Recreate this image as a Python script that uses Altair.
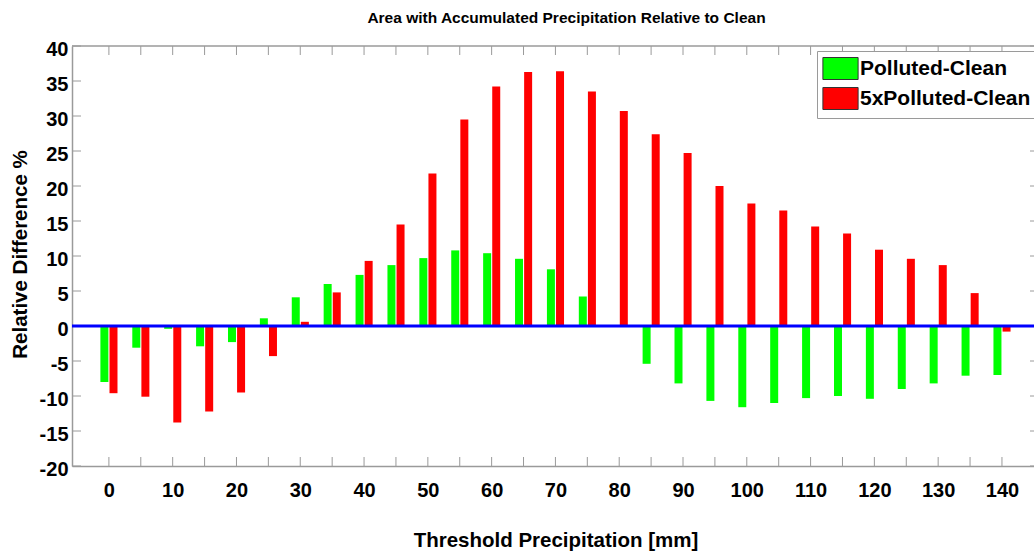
import altair as alt
import pandas as pd

# ---- data ----
thresholds = [0, 5, 10, 15, 20, 25, 30, 35, 40, 45, 50, 55, 60, 65, 70,
              75, 80, 85, 90, 95, 100, 105, 110, 115, 120, 125, 130, 135, 140]
polluted_clean = [-8.0, -3.1, -0.4, -2.9, -2.3, 1.1, 4.1, 6.0, 7.3, 8.7, 9.7, 10.8, 10.4, 9.6, 8.1,
                  4.2, 0.0, -5.4, -8.2, -10.7, -11.6, -11.0, -10.3, -10.0, -10.4, -9.0, -8.2, -7.1, -7.0]
polluted5_clean = [-9.6, -10.1, -13.8, -12.2, -9.5, -4.3, 0.6, 4.8, 9.3, 14.5, 21.8, 29.5, 34.2, 36.3, 36.4,
                   33.5, 30.7, 27.4, 24.7, 20.0, 17.5, 16.5, 14.2, 13.2, 10.9, 9.6, 8.7, 4.7, -0.8]
series_names = ["Polluted-Clean", "5xPolluted-Clean"]
series_colors = ["#00ff00", "#ff0000"]
x_tick_labels = list(range(0, 141, 10))
x_minor_ticks = list(range(0, 141, 5))
y_ticks = list(range(-20, 41, 5))

FONT = "Liberation Sans"
W, H = 962, 420
BORDER = "#9a9a9a"

rows = []
for t, g, r in zip(thresholds, polluted_clean, polluted5_clean):
    rows.append({"x": t, "v": g, "series": series_names[0]})
    rows.append({"x": t, "v": r, "series": series_names[1]})
df = pd.DataFrame(rows)

xscale = alt.Scale(domain=[-5, 144.24], nice=False, zero=False)
yscale = alt.Scale(domain=[-20, 40], nice=False, zero=False)
color = alt.Color(
    "series:N",
    scale=alt.Scale(domain=series_names, range=series_colors),
    legend=alt.Legend(
        title=None, orient="none", legendX=745, legendY=5,
        symbolType="M-1.6,-1H1.6V1H-1.6Z", symbolSize=484, symbolOffset=6,
        symbolStrokeColor="#333333", symbolStrokeWidth=1, symbolOpacity=1,
        labelFont=FONT, labelFontSize=21, labelFontWeight="bold", labelColor="black",
        labelOffset=8, rowPadding=3, padding=6,
        strokeColor=BORDER, fillColor="white", labelLimit=400,
    ),
)

xaxis = alt.Axis(values=x_tick_labels, labelFont=FONT, labelFontSize=20, labelFontWeight="bold",
                 labelColor="black", labelPadding=14, ticks=False, tickSize=0, grid=False,
                 domainColor=BORDER, domainWidth=1.5, labelFlush=False, labelOverlap=False,
                 labelExpr="'' + datum.value",
                 title="Threshold Precipitation [mm]", titleFont=FONT, titleFontSize=20.5,
                 titleFontWeight="bold", titleColor="black", titleX=483.5, titleY=80,
                 titleBaseline="alphabetic", titleAlign="center")
yaxis = alt.Axis(values=y_ticks, labelFont=FONT, labelFontSize=20, labelFontWeight="bold",
                 labelColor="black", labelPadding=4, labelOffset=3.5, labelBaseline="middle",
                 ticks=False, tickSize=0, grid=False, labelOverlap=False,
                 labelExpr="'' + datum.value",
                 domainColor=BORDER, domainWidth=1.5, labelFlush=False,
                 title="Relative Difference %", titleFont=FONT, titleFontSize=20.5,
                 titleFontWeight="bold", titleColor="black", titleX=-45.3, titleY=208,
                 titleBaseline="alphabetic", titleAlign="center", titleAngle=270)


def X(field):
    return alt.X(field, scale=xscale, axis=xaxis)


def Y(field):
    return alt.Y(field, scale=yscale, axis=yaxis)


base = alt.Chart(df)
green = base.transform_filter(alt.datum.series == series_names[0]).mark_bar(
    size=8, xOffset=-4.5).encode(x=X("x:Q"), y=Y("v:Q"), y2=alt.datum(0), color=color)
red = base.transform_filter(alt.datum.series == series_names[1]).mark_bar(
    size=8, xOffset=4.6).encode(x=X("x:Q"), y=Y("v:Q"), y2=alt.datum(0), color=color)

zero = alt.Chart(pd.DataFrame({"z": [0]})).mark_rule(color="#0000ff", strokeWidth=3).encode(
    y=Y("z:Q"), x=alt.value(0), x2=alt.value(W))

xt = pd.DataFrame({"x": x_minor_ticks})
top_ticks = alt.Chart(xt).mark_rule(color=BORDER, strokeWidth=1).encode(
    x=X("x:Q"), y=alt.value(0), y2=alt.value(9))
bot_ticks = alt.Chart(xt).mark_rule(color=BORDER, strokeWidth=1).encode(
    x=X("x:Q"), y=alt.value(H - 9), y2=alt.value(H))
yt = pd.DataFrame({"y": y_ticks})
left_ticks = alt.Chart(yt).mark_rule(color=BORDER, strokeWidth=1).encode(
    y=Y("y:Q"), x=alt.value(0), x2=alt.value(9))
right_ticks = alt.Chart(yt).mark_rule(color=BORDER, strokeWidth=1).encode(
    y=Y("y:Q"), x=alt.value(W - 4), x2=alt.value(W))
top_border = alt.Chart(pd.DataFrame({"b": [40]})).mark_rule(color=BORDER, strokeWidth=1.5).encode(
    y=Y("b:Q"), x=alt.value(0), x2=alt.value(W))

chart = alt.layer(green, red, top_ticks, bot_ticks, left_ticks, right_ticks, top_border, zero).properties(
    width=W, height=H,
    autosize=alt.AutoSizeParams(type="none"),
    padding={"left": 72, "top": 46, "right": 0, "bottom": 86},
    title=alt.TitleParams("Area with Accumulated Precipitation Relative to Clean", font=FONT,
                          fontSize=15.5, fontWeight="bold", color="black", anchor="middle",
                          frame="group", baseline="alphabetic", offset=1, dx=13.5),
    background="white",
).configure_view(stroke=None)

chart.save("out.html", embed_options={"renderer": "svg", "actions": False})
